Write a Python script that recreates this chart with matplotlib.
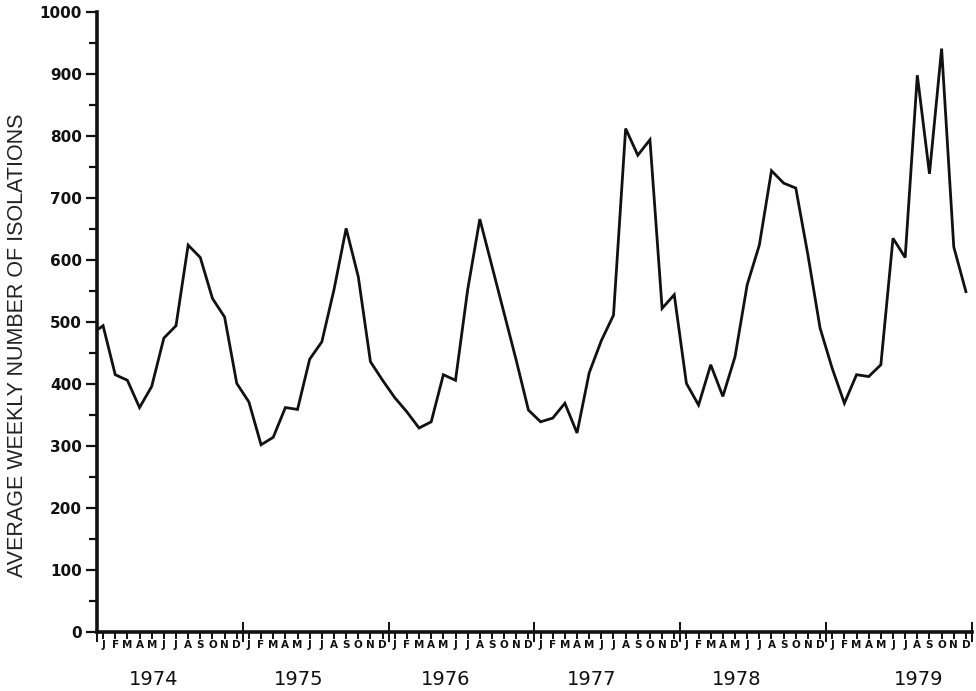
import matplotlib
matplotlib.use("Agg")
import matplotlib.pyplot as plt
import matplotlib.transforms as mtransforms
import numpy as np

# ---- data (average weekly isolations per month, Jan 1974 - Dec 1979) ----
years = ["1974", "1975", "1976", "1977", "1978", "1979"]
year_label_month = [4.7, 16.6, 28.7, 40.7, 52.6, 67.6]  # where each year label sits (in months)
month_letters = ["J", "F", "M", "A", "M", "J", "J", "A", "S", "O", "N", "D"]
dec_1973 = 480  # value just before the axis starts
v1974 = [494, 415, 406, 362, 396, 474, 494, 624, 604, 538, 508, 401]
v1975 = [371, 302, 314, 362, 359, 440, 468, 552, 651, 573, 436, 406]
v1976 = [378, 355, 329, 339, 415, 406, 552, 666, 590, 514, 438, 358]
v1977 = [339, 345, 369, 321, 418, 470, 511, 812, 769, 794, 522, 544]
v1978 = [401, 366, 431, 380, 444, 560, 624, 744, 724, 716, 608, 490]
v1979 = [425, 369, 415, 412, 431, 635, 604, 898, 739, 941, 621, 549]
yticks = list(range(0, 1001, 100))

values = [dec_1973] + v1974 + v1975 + v1976 + v1977 + v1978 + v1979
n_months = 12 * len(years)
x = np.arange(-1, n_months) + 0.5

W, H = 976, 691
fig = plt.figure(figsize=(W / 100, H / 100), dpi=100)
left, right, bottom_px, top_px = 97, 972, 632, 12
ax = fig.add_axes([left / W, (H - bottom_px) / H, (right - left) / W, (bottom_px - top_px) / H])

ax.plot(x, values, color="#111111", lw=2.0, solid_joinstyle="miter", clip_on=True)

ax.set_xlim(0, n_months)
ax.set_ylim(0, 1000)

for s in ["top", "right"]:
    ax.spines[s].set_visible(False)
for s in ["left", "bottom"]:
    ax.spines[s].set_linewidth(2.6)
    ax.spines[s].set_color("#111111")

# y axis
ax.set_yticks(yticks)
ax.set_yticklabels([str(v) for v in yticks], fontsize=11, fontweight="bold",
                   family="DejaVu Sans", color="#111111")
ax.set_yticks(np.arange(50, 1000, 100), minor=True)
ax.tick_params(axis="y", which="major", direction="out", length=8, width=1.6, pad=3, colors="#111111")
ax.tick_params(axis="y", which="minor", direction="out", length=6, width=1.6, colors="#111111")
ax.set_ylabel("AVERAGE WEEKLY NUMBER OF ISOLATIONS", fontsize=15.5, family="Liberation Sans",
              color="#222222")
ax.yaxis.set_label_coords(-0.079, 0.463)

# x axis: year boundaries (major) and months (minor, labelled)
ax.set_xticks(np.arange(0, n_months + 1, 12))
ax.set_xticklabels([])
ax.set_xticks(np.arange(n_months) + 0.5, minor=True)
ax.set_xticklabels(month_letters * len(years), minor=True, fontsize=7.5, fontweight="bold",
                   family="DejaVu Sans", color="#111111")
ax.tick_params(axis="x", which="major", direction="inout", length=14, width=1.4, colors="#111111")
ax.tick_params(axis="x", which="minor", direction="out", length=5, width=1.4, pad=1, colors="#111111")

trans = mtransforms.blended_transform_factory(ax.transData, ax.transAxes)
for pos, yr in zip(year_label_month, years):
    ax.text(pos, -0.077, yr, transform=trans, ha="center", va="center",
            fontsize=14, fontweight="medium", family="DejaVu Sans", color="#111111")

fig.savefig("out.png", dpi=100, facecolor="white")
